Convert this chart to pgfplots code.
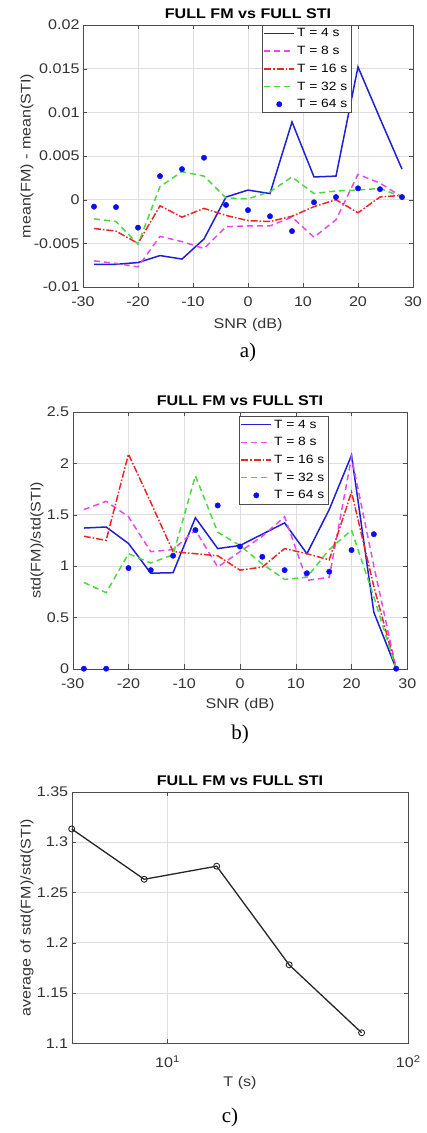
\documentclass[border=0pt]{standalone}
\usepackage{fontspec}
\setmainfont{Liberation Sans}[FakeStretch=1.15]
\newfontfamily\capfont{Liberation Serif}
\usepackage{pgfplots}
\usepackage{pgfplotstable}
\pgfplotsset{compat=1.18}

\definecolor{cfour}{rgb}{0.12,0.12,0.85}
\definecolor{ceight}{rgb}{0.90,0.30,0.90}
\definecolor{csixteen}{rgb}{0.92,0.15,0.15}
\definecolor{cthirtytwo}{rgb}{0.30,0.85,0.25}
\definecolor{csixtyfour}{rgb}{0.05,0.05,0.95}

% mean(FM)-mean(STI) vs SNR
\pgfplotstableread{
snr t4 t8 t16 t32 t64
-28 -0.0074 -0.0070 -0.0033 -0.0022 -0.0008
-24 -0.0074 -0.0073 -0.0036 -0.0025 -0.00085
-20 -0.0072 -0.0077 -0.0050 -0.0051 -0.0032
-16 -0.0064 -0.0042 -0.0007 0.0015 0.0027
-12 -0.0068 -0.0048 -0.0020 0.0032 0.0035
-8 -0.0045 -0.0056 -0.0010 0.0027 0.0048
-4 0.0003 -0.0031 -0.0018 0.0002 -0.0006
0 0.0011 -0.0030 -0.0024 0.0001 -0.0012
4 0.0007 -0.0030 -0.0025 0.0009 -0.0019
8 0.0089 -0.0020 -0.0019 0.0026 -0.0036
12 0.0026 -0.0043 -0.0008 0.0007 -0.0003
16 0.0027 -0.0023 0.0000 0.0010 0.0003
20 0.0152 0.0029 -0.0015 0.0011 0.0013
24 0.0093 0.0019 0.0003 0.0013 0.0012
28 0.0035 0.0003 0.0005 0.0003 0.0003
}\meantab

% std(FM)/std(STI) vs SNR
\pgfplotstableread{
snr t4 t8 t16 t32 t64
-28 1.37 1.55 1.29 0.84 0
-24 1.38 1.63 1.25 0.74 0
-20 1.22 1.48 2.09 1.12 0.98
-16 0.93 1.14 1.62 1.03 0.96
-12 0.935 1.16 1.14 1.11 1.10
-8 1.47 1.35 1.12 1.88 1.35
-4 1.17 0.99 1.10 1.33 1.59
0 1.20 1.14 0.96 1.20 1.19
4 1.31 1.29 0.99 1.02 1.09
8 1.42 1.48 1.17 0.87 0.96
12 1.12 0.86 1.12 0.89 0.93
16 1.55 0.89 1.06 1.16 0.945
20 2.08 2.06 1.72 1.35 1.155
24 0.55 1.00 0.80 0.70 1.31
28 0 0 0 0 0
}\stdtab

% average of ratio vs T
\pgfplotstableread{
T avg
4 1.313
8 1.263
16 1.276
32 1.178
64 1.1105
}\avgtab

\pgfplotsset{
  mlab/.style={
    scale only axis, tick align=inside, grid=major,
    major grid style={black!13}, minor grid style={black!9},
    axis line style={black!70}, tick style={black!70},
    tick label style={font=\fontsize{14}{14}\selectfont, text=black!80},
    x tick label style={yshift=-6pt},
    label style={font=\fontsize{14}{14}\selectfont, text=black!80},
    title style={font=\fontsize{14}{14}\selectfont\bfseries, yshift=-3pt},
    /pgf/number format/assume math mode=true,
    /pgf/number format/fixed, /pgf/number format/precision=3,
    scaled ticks=false, anchor=south west,
    legend cell align=left,
    legend style={font=\fontsize{12}{12}\selectfont, draw=black!70,
      inner sep=1.5pt, row sep=3.8pt},
    legend image code/.code={\draw[mark repeat=2, mark phase=2, #1]
      plot coordinates {(0pt,0pt) (15pt,0pt) (30pt,0pt)};},
  },
  snr/.style={
    mlab, xmin=-30, xmax=30, xtick={-30,-20,...,30}, xlabel={SNR (dB)},
  },
  l4/.style={cfour, line width=1.5pt},
  l8/.style={ceight, line width=1.5pt, dash pattern=on 6pt off 4pt},
  l16/.style={csixteen, line width=1.5pt, dash pattern=on 7pt off 2pt on 1.5pt off 2pt},
  l32/.style={cthirtytwo, line width=1.5pt, dash pattern=on 6pt off 4pt},
  l64/.style={only marks, mark=*, mark size=2.7pt, csixtyfour,
    legend image code/.code={\fill[csixtyfour] (15pt,0pt) circle (2.7pt);}},
}

\begin{document}
\begin{tikzpicture}
\useasboundingbox (0pt,0pt) rectangle (426pt,-1133pt);

\begin{axis}[snr, at={(83pt,-287pt)}, width=330pt, height=262pt,
  ymin=-0.01, ymax=0.02, ytick={-0.01,-0.005,...,0.02},
  ylabel={mean(FM) - mean(STI)}, title={FULL FM vs FULL STI},
  xlabel style={at={(axis description cs:0.5,-0.145)}, anchor=center},
  ylabel style={at={(axis description cs:-0.170,0.5)}, anchor=center},
  legend style={at={(rel axis cs:0.812,1)}, anchor=north east}]
  \addplot[l4] table[x=snr, y=t4] {\meantab};
  \addplot[l8] table[x=snr, y=t8] {\meantab};
  \addplot[l16] table[x=snr, y=t16] {\meantab};
  \addplot[l32] table[x=snr, y=t32] {\meantab};
  \addplot[l64] table[x=snr, y=t64] {\meantab};
  \legend{T = 4 s, T = 8 s, T = 16 s, T = 32 s, T = 64 s}
\end{axis}
\node[font=\capfont\fontsize{21}{21}\selectfont] at (248pt,-352pt) {a)};

\begin{axis}[snr, at={(72.7pt,-668.7pt)}, width=334.6pt, height=256.7pt,
  ymin=0, ymax=2.5, ytick={0,0.5,...,2.5},
  ylabel={std(FM)/std(STI)}, title={FULL FM vs FULL STI},
  xlabel style={at={(axis description cs:0.5,-0.141)}, anchor=center},
  ylabel style={at={(axis description cs:-0.107,0.5)}, anchor=center},
  legend style={at={(rel axis cs:0.763,0.984)}, anchor=north east}]
  \addplot[l4] table[x=snr, y=t4] {\stdtab};
  \addplot[l8] table[x=snr, y=t8] {\stdtab};
  \addplot[l16] table[x=snr, y=t16] {\stdtab};
  \addplot[l32] table[x=snr, y=t32] {\stdtab};
  \addplot[l64] table[x=snr, y=t64] {\stdtab};
  \legend{T = 4 s, T = 8 s, T = 16 s, T = 32 s, T = 64 s}
\end{axis}
\node[font=\capfont\fontsize{21}{21}\selectfont] at (240pt,-734pt) {b)};

\begin{axis}[mlab, xmode=log, at={(71.7pt,-1043.3pt)}, width=336.6pt, height=251.6pt,
  xmin=4, xmax=100, xtick={10,100},
  xticklabels={10\textsuperscript{1},10\textsuperscript{2}},
  x tick label style={yshift=-3pt},
  xminorgrids=true, log basis x=10,
  ymin=1.1, ymax=1.35, ytick={1.1,1.15,1.2,1.25,1.3,1.35},
  xlabel={T (s)}, ylabel={average of std(FM)/std(STI)},
  xlabel style={at={(axis description cs:0.5,-0.158)}, anchor=center},
  ylabel style={at={(axis description cs:-0.133,0.5)}, anchor=center},
  title={FULL FM vs FULL STI}]
  \addplot[black!85, line width=1.3pt, mark=o, mark size=3pt,
    mark options={line width=0.9pt}] table[x=T, y=avg] {\avgtab};
\end{axis}
\node[font=\capfont\fontsize{21}{21}\selectfont] at (230pt,-1117pt) {c)};
\end{tikzpicture}
\end{document}
